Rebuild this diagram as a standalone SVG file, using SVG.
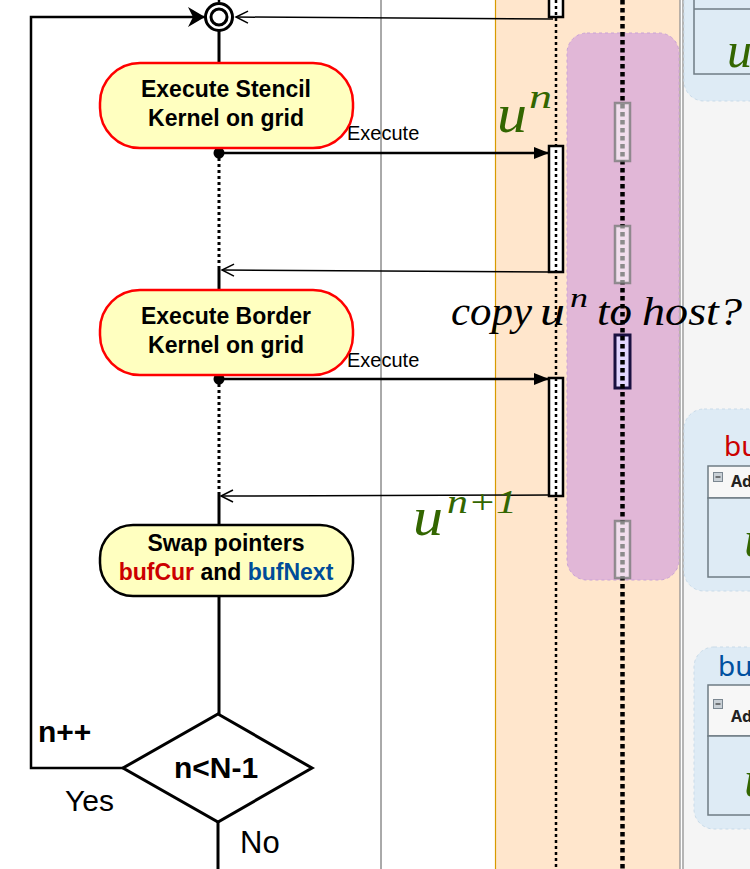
<svg xmlns="http://www.w3.org/2000/svg" width="750" height="869" viewBox="0 0 750 869">
<style>
.node{fill:#ffffc0;stroke-width:2.5}
.red{stroke:#ff0000}
.blk{stroke:#000}
.lbl{font-family:"Liberation Sans",Arial,sans-serif;font-weight:bold;font-size:23px;fill:#000;text-anchor:middle}
.big{font-size:30px}
.plain{font-family:"Liberation Sans",Arial,sans-serif;fill:#000}
.math{font-family:"Liberation Serif","DejaVu Serif",serif;font-style:italic}
.g{fill:#336600}
.act{fill:#fff;stroke:#000;stroke-width:2.5}
.gact{fill:#ffffff;fill-opacity:0.55;stroke:#7a7a7a;stroke-opacity:0.8;stroke-width:2.5}
.blue{fill:#deebf5;stroke:#c9dbe9;stroke-width:1;stroke-dasharray:3,3}
.box{fill:#deebf5;stroke:#6f7c84;stroke-width:1.5}
.hdr{fill:#f7f7f7;stroke:#6f7c84;stroke-width:1.5}
.ad{font-family:"Noto Sans","Open Sans",sans-serif;font-weight:bold;font-size:16px;fill:#222}
.bu{font-family:"Noto Sans","Open Sans",sans-serif;font-size:28px}
</style>
<defs>
<marker id="fill" markerUnits="userSpaceOnUse" markerWidth="18" markerHeight="14" refX="15" refY="6" orient="auto">
<path d="M0,0 L15,6 L0,12 z" fill="#000"/>
</marker>
<marker id="stealth" markerUnits="userSpaceOnUse" markerWidth="20" markerHeight="22" refX="17" refY="10" orient="auto">
<path d="M0,0 L17,10 L0,20 L5,10 z" fill="#000"/>
</marker>
<marker id="open" markerUnits="userSpaceOnUse" markerWidth="16" markerHeight="16" refX="13" refY="7" orient="auto">
<path d="M1,1 L13,7 L1,13" fill="none" stroke="#000" stroke-width="1.5"/>
</marker>
</defs>

<g id="background">
<rect x="0" y="0" width="750" height="869" fill="#fff"/>
<line x1="381" y1="0" x2="381" y2="869" stroke="#555" stroke-width="1"/>
<rect x="495" y="0" width="185" height="869" fill="#ffe6cc"/>
<line x1="495.5" y1="0" x2="495.5" y2="869" stroke="#d79b00" stroke-width="1.2"/>
<rect x="682" y="0" width="68" height="869" fill="#f5f5f5"/>
<line x1="680" y1="0" x2="680" y2="869" stroke="#8a8a8a" stroke-width="1.2"/>
<line x1="683" y1="0" x2="683" y2="869" stroke="#8a8a8a" stroke-width="1.2"/>
</g>

<g id="right-panels">
<rect class="blue" x="684" y="-40" width="90" height="141" rx="20"/>
<rect class="box" x="694" y="-20" width="70" height="94"/>
<line x1="694" y1="9" x2="764" y2="9" stroke="#6f7c84" stroke-width="1.5"/>
<text class="math g" x="727" y="67" font-size="50">u</text>

<rect class="blue" x="684" y="409" width="90" height="182" rx="20"/>
<text class="bu" x="724" y="456" fill="#cc0000">bu</text>
<rect class="hdr" x="708" y="466" width="56" height="32"/>
<rect class="box" x="708" y="498" width="56" height="79"/>
<rect x="713.5" y="472.5" width="9" height="9" fill="#c9d0d6" stroke="#7b8791" stroke-width="1"/>
<line x1="715.5" y1="477" x2="720.5" y2="477" stroke="#333" stroke-width="1.2"/>
<text class="ad" x="731" y="487">Ad</text>
<text class="math g" x="744" y="556" font-size="50">u</text>

<rect class="blue" x="694" y="647" width="80" height="182" rx="20"/>
<text class="bu" x="718" y="676" fill="#0050a0">bu</text>
<rect class="hdr" x="708" y="685" width="56" height="51"/>
<rect class="box" x="708" y="736" width="56" height="79"/>
<rect x="713.5" y="699.5" width="9" height="9" fill="#c9d0d6" stroke="#7b8791" stroke-width="1"/>
<line x1="715.5" y1="704" x2="720.5" y2="704" stroke="#333" stroke-width="1.2"/>
<text class="ad" x="731" y="722">Ad</text>
<text class="math g" x="744" y="796" font-size="50">u</text>
</g>

<g id="host-region">
<rect x="567" y="33" width="112" height="547" rx="20" fill="#e1b7d7" stroke="#c9a3d6" stroke-width="1" stroke-dasharray="3,3"/>
</g>

<g id="lifeline-device">
<rect class="act" x="549" y="-6" width="14" height="23"/>
<rect class="act" x="549" y="146" width="14" height="126"/>
<rect class="act" x="549" y="378" width="14" height="118"/>
<line x1="556" y1="0" x2="556" y2="869" stroke="#000" stroke-width="2.5" stroke-dasharray="3,3"/>
</g>

<g id="lifeline-host">
<rect x="615" y="335" width="15" height="53" fill="#e3d6ff" stroke="#1a1040" stroke-width="3"/>
<line x1="622.5" y1="0" x2="622.5" y2="869" stroke="#000" stroke-width="4.5" stroke-dasharray="4.5,3.5"/>
<rect class="gact" x="615" y="103" width="15" height="58"/>
<rect class="gact" x="615" y="226" width="15" height="57"/>
<rect class="gact" x="615" y="521" width="15" height="57"/>
</g>

<g id="connectors">
<line x1="219" y1="0" x2="219" y2="3" stroke="#000" stroke-width="2.5" stroke-dasharray="2,2"/>
<line x1="219" y1="31" x2="219" y2="63" stroke="#000" stroke-width="3"/>
<polyline points="123,768 31,768 31,17 205,17" fill="none" stroke="#000" stroke-width="2.5" marker-end="url(#stealth)"/>
<line x1="553" y1="19" x2="236" y2="17" stroke="#000" stroke-width="1.5" marker-end="url(#open)"/>
<line x1="219" y1="153" x2="549" y2="153" stroke="#000" stroke-width="2.5" marker-end="url(#fill)"/>
<line x1="219" y1="158" x2="219" y2="268" stroke="#000" stroke-width="3" stroke-dasharray="3,3"/>
<line x1="549" y1="272" x2="222" y2="270" stroke="#000" stroke-width="1.5" marker-end="url(#open)"/>
<line x1="219" y1="268" x2="219" y2="291" stroke="#000" stroke-width="3"/>
<line x1="219" y1="379" x2="549" y2="379" stroke="#000" stroke-width="2.5" marker-end="url(#fill)"/>
<line x1="219" y1="384" x2="219" y2="494" stroke="#000" stroke-width="3" stroke-dasharray="3,3"/>
<line x1="549" y1="495" x2="221" y2="496" stroke="#000" stroke-width="1.5" marker-end="url(#open)"/>
<line x1="219" y1="494" x2="219" y2="525" stroke="#000" stroke-width="3"/>
<line x1="219" y1="596" x2="219" y2="714" stroke="#000" stroke-width="3"/>
<line x1="218" y1="822" x2="218" y2="869" stroke="#000" stroke-width="3"/>
<circle cx="219" cy="153" r="5.5" fill="#000"/>
<circle cx="219" cy="379" r="5.5" fill="#000"/>
<text class="plain" x="347" y="140" font-size="20">Execute</text>
<text class="plain" x="347" y="367" font-size="20">Execute</text>
<text class="plain" x="38" y="742" font-size="30" font-weight="bold">n++</text>
<text class="plain" x="65" y="811" font-size="30">Yes</text>
<text class="plain" x="240" y="853" font-size="31">No</text>
</g>

<g id="merge">
<circle cx="219" cy="17" r="13.5" fill="#fff" stroke="#000" stroke-width="3"/>
<circle cx="219" cy="17" r="8" fill="#fff" stroke="#000" stroke-width="3"/>
</g>

<g id="stencil">
<rect class="node red" x="100" y="63" width="253" height="85" rx="40"/>
<text class="lbl" x="226" y="97">Execute Stencil</text>
<text class="lbl" x="226" y="126">Kernel on grid</text>
</g>

<g id="border">
<rect class="node red" x="100" y="290" width="253" height="85" rx="40"/>
<text class="lbl" x="226" y="324">Execute Border</text>
<text class="lbl" x="226" y="353">Kernel on grid</text>
</g>

<g id="swap">
<rect class="node blk" x="100" y="525" width="253" height="71" rx="33"/>
<text class="lbl" x="226" y="551">Swap pointers</text>
<text class="lbl" x="226" y="580"><tspan fill="#cc0000">bufCur</tspan> and <tspan fill="#004c99">bufNext</tspan></text>
</g>

<g id="decision">
<polygon points="218,714 312,768 218,822 123,768" fill="#fff" stroke="#000" stroke-width="3"/>
<text class="lbl big" x="216" y="778">n&lt;N-1</text>
</g>

<g id="math-labels">
<text class="math g" x="497" y="132" font-size="54" textLength="30" lengthAdjust="spacingAndGlyphs">u</text>
<text class="math g" x="529" y="108" font-size="34" textLength="23" lengthAdjust="spacingAndGlyphs">n</text>
<text class="math g" x="413" y="535" font-size="54" textLength="30" lengthAdjust="spacingAndGlyphs">u</text>
<text class="math g" x="447" y="513" font-size="34" textLength="70" lengthAdjust="spacingAndGlyphs">n+1</text>
<text class="math" fill="#000" font-size="40" y="325"><tspan x="451" textLength="81" lengthAdjust="spacingAndGlyphs">copy</tspan><tspan x="540" textLength="25" lengthAdjust="spacingAndGlyphs">u</tspan><tspan x="570" y="307" font-size="28" textLength="18" lengthAdjust="spacingAndGlyphs">n</tspan><tspan x="597" y="325" textLength="35" lengthAdjust="spacingAndGlyphs">to</tspan><tspan x="642" textLength="100" lengthAdjust="spacingAndGlyphs">host?</tspan></text>
</g>
</svg>
